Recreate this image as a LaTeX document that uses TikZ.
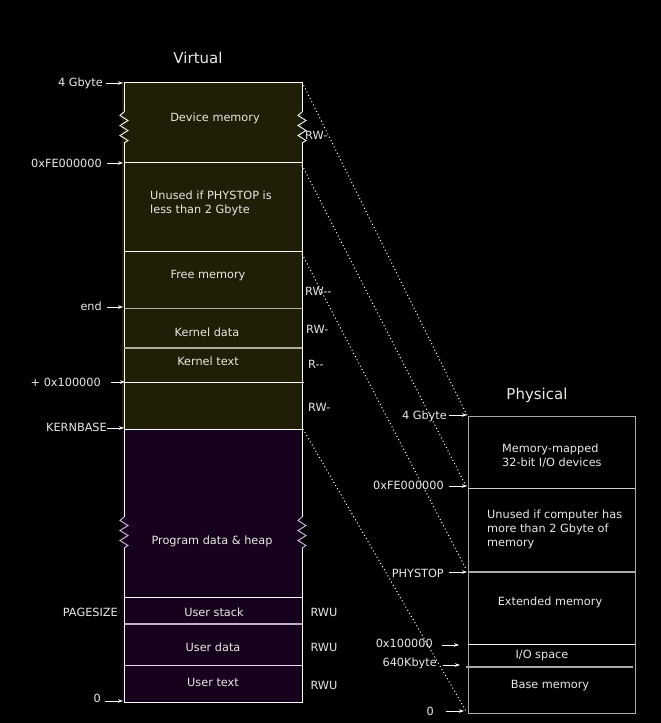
\documentclass[tikz,border=0pt]{standalone}
\usepackage{fontspec}
\setmainfont{DejaVu Sans}
\usetikzlibrary{arrows.meta}
\definecolor{kfill}{RGB}{32,30,6}
\definecolor{ufill}{RGB}{23,2,29}
\definecolor{fg}{RGB}{232,232,228}
\definecolor{dimline}{RGB}{176,176,160}
\definecolor{pline}{RGB}{170,170,170}
\definecolor{lav}{RGB}{210,190,225}
\tikzset{
  txt/.style={text=fg, font=\fontsize{11.3}{14}\selectfont, inner sep=0pt},
  ttl/.style={text=fg, font=\fontsize{15}{18}\selectfont, inner sep=0pt},
  edge/.style={draw=white, line width=0.9pt},
  ptr/.style={draw=white, line width=0.8pt, -{Stealth[length=5pt,width=3.5pt]}},
  map/.style={draw=white, line width=1pt, dash pattern=on 1pt off 2.6pt},
  zig/.pic={\draw[line width=0.9pt, draw=#1] (0,0)--(-4,3.5)--(4,8.5)--(-4,13.5)--(4,18.5)--(-4,23.5)--(4,28.5)--(0,31);}
}
\begin{document}
\begin{tikzpicture}[x=1pt,y=-1pt]
\fill[black] (0,0) rectangle (661,723);
\useasboundingbox (0,0) rectangle (661,723);

% ---------- Virtual ----------
\fill[kfill] (122,82) rectangle (302,429);
\fill[ufill] (122,429) rectangle (302,702);

% box edges with zigzag breaks
\draw[edge] (124,82) -- (302,82);
\draw[edge] (124,82) -- (124,112);
\pic at (124,112) {zig=white};
\draw[edge] (124,143) -- (124,517);
\pic at (124,517) {zig=lav};
\draw[edge] (124,548) -- (124,702) -- (302,702) -- (302,548);
\pic at (302,517) {zig=lav};
\draw[edge] (302,517) -- (302,143);
\pic at (302,112) {zig=white};
\draw[edge] (302,112) -- (302,82);

% internal lines
\draw[edge] (124,162) -- (302,162);
\draw[edge] (124,251) -- (302,251);
\draw[draw=dimline, line width=1pt] (124,308) -- (302,308);
\draw[draw=dimline, line width=1.2pt] (124,348) -- (302,348);
\draw[edge] (124,382) -- (304,382);
\draw[edge] (124,429) -- (302,429);
\draw[edge] (124,597) -- (302,597);
\draw[draw=lav!80!gray, line width=1.2pt] (125,624) -- (303,624);
\draw[draw=lav!60!white, line width=0.9pt] (125,665) -- (303,665);

\node[ttl] (vt) at (198,58) {Virtual};

\node[txt] (dev) at (215,118) {Device memory};
\node[txt, anchor=west, align=left] (unv) at (150,203) {Unused if PHYSTOP is\\less than 2 Gbyte};
\node[txt] (free) at (208,276) {Free memory};
\node[txt] (kdata) at (207,332) {Kernel data};
\node[txt] (ktext) at (208,361) {Kernel text};
\node[txt] (heap) at (212,541) {Program data \& heap};
\node[txt] (ustack) at (214,612) {User stack};
\node[txt] (udata) at (213,647) {User data};
\node[txt] (utext) at (213,682) {User text};

% left labels + arrows
\node[txt, anchor=east] (l4g) at (103,83) {4 Gbyte};
\node[txt, anchor=east] (lfe) at (102,163) {0xFE000000};
\node[txt, anchor=east] (lend) at (102,306) {end};
\node[txt, anchor=east] (l1m) at (101,382) {+ 0x100000};
\node[txt, anchor=east] (lkb) at (107,427) {KERNBASE};
\node[txt, anchor=east] (lps) at (118,612) {PAGESIZE};
\node[txt, anchor=east] (l0) at (101,698) {0};

\coordinate (v4g) at (123,83);
\coordinate (vfe) at (123,163);
\coordinate (vend) at (123,307);
\coordinate (v1m) at (125,382);
\coordinate (vkb) at (124,428);
\coordinate (v0) at (123,701);
\draw[ptr] ([xshift=3pt]l4g.east |- v4g) -- (v4g);
\draw[ptr] ([xshift=5pt]lfe.east |- vfe) -- (vfe);
\draw[ptr] ([xshift=5pt]lend.east |- vend) -- (vend);
\draw[ptr] ([xshift=10pt]l1m.east |- v1m) -- (v1m);
\draw[ptr] (lkb.east |- vkb) -- (vkb);
\draw[ptr] ([xshift=4pt]l0.east |- v0) -- (v0);

% permissions
\node[txt, anchor=west] (p1) at (305,135) {RW-};
\node[txt, anchor=west] (p2) at (305,291) {RW-{}-};
\node[txt, anchor=west] (p3) at (306,329) {RW-};
\node[txt, anchor=west] (p4) at (308,364) {R-{}-};
\node[txt, anchor=west] (p5) at (308,407) {RW-};
\node[txt] (p6) at (324,612) {RWU};
\node[txt] (p7) at (324,647) {RWU};
\node[txt] (p8) at (324,685) {RWU};

% ---------- Physical ----------
\draw[draw=pline, line width=1pt] (468,416) rectangle (635,713);
\draw[draw=pline!60!white, line width=1pt] (468,488) -- (635,488);
\draw[draw=pline, line width=1.2pt] (468,572) -- (635,572);
\draw[draw=white!90!gray, line width=0.9pt] (468,644) -- (635,644);
\draw[draw=pline, line width=1.2pt] (466,667) -- (633,667);

\node[ttl] (pt) at (537,395) {Physical};
\node[txt, anchor=west, align=left] (mmio) at (502,456) {Memory-mapped\\32-bit I/O devices};
\node[txt, anchor=west, align=left] (unp) at (487,529) {Unused if computer has\\more than 2 Gbyte of\\memory};
\node[txt] (ext) at (550,602) {Extended memory};
\node[txt] (io) at (542,655) {I/O space};
\node[txt] (base) at (550,686) {Base memory};

\node[txt, anchor=east] (r4g) at (447,416) {4 Gbyte};
\node[txt, anchor=east] (rfe) at (444,485) {0xFE000000};
\node[txt, anchor=east] (rps) at (444,573) {PHYSTOP};
\node[txt, anchor=east] (r1m) at (433,643) {0x100000};
\node[txt, anchor=east] (r640) at (437,663) {640Kbyte};
\node[txt, anchor=east] (r0) at (434,711) {0};

\coordinate (q4g) at (467,415);
\coordinate (qfe) at (467,486);
\coordinate (qps) at (467,572);
\coordinate (q1m) at (459,645);
\coordinate (q640) at (460,665);
\coordinate (q0) at (464,711);
\draw[ptr] ([xshift=2pt]r4g.east |- q4g) -- (q4g);
\draw[ptr] ([xshift=5pt]rfe.east |- qfe) -- (qfe);
\draw[ptr] ([xshift=5pt]rps.east |- qps) -- (qps);
\draw[ptr] ([xshift=9pt]r1m.east |- q1m) -- (q1m);
\draw[ptr] ([xshift=6pt]r640.east |- q640) -- (q640);
\draw[ptr] ([xshift=12pt]r0.east |- q0) -- (q0);

% ---------- mapping lines ----------
\coordinate (m1a) at (302,82);
\coordinate (m2a) at (302,165);
\coordinate (m3a) at (302,254);
\coordinate (m4a) at (303,429);
\coordinate (m1b) at (467,415);
\coordinate (m2b) at (466,486);
\coordinate (m3b) at (466,569);
\coordinate (m4b) at (466,711);
\draw[map] (m1a) -- (m1b);
\draw[map] (m2a) -- (m2b);
\draw[map] (m3a) -- (m3b);
\draw[map] (m4a) -- (m4b);
\end{tikzpicture}
\end{document}
